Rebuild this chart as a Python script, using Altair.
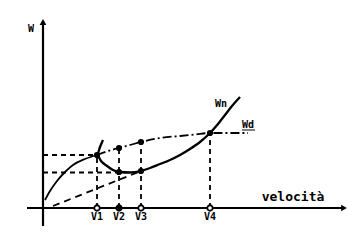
import altair as alt
import pandas as pd

# Wn curve (power required) — velocity, power
wn_v = [60, 57, 54, 58, 64, 70, 76, 87, 98, 107, 117, 127, 137, 147, 157, 167, 175, 182, 189, 197]
wn_w = [68, 61, 53, 47, 42, 38, 36, 35.5, 37, 40, 44, 48, 53, 59, 66, 75, 84, 93, 102, 111]

# Wd curve (power available): solid part and dash-dot part
wd1_v = [2, 7, 14, 22, 30, 42, 54]
wd1_w = [8, 17, 27, 36, 43, 49, 53]
wd2_v = [54, 65, 76, 87, 98, 117, 137, 152, 167, 187, 205]
wd2_w = [53, 57, 60, 63, 66, 70, 72, 73.5, 75, 75, 75]

# tangent dashed line
tan_v = [10, 98]
tan_w = [2, 37]

# special speeds
v_names = ["V1", "V2", "V3", "V4"]
v_vals = [54, 76, 98, 167]
v_top = [53, 60, 66, 75]
v_marker_filled = [False, True, False, False]

# horizontal guides
h_levels = [53, 35.5]
h_ends = [54, 76]

# intersection dots
dot_v = [54, 76, 98, 76, 98, 167]
dot_w = [53, 60, 66, 36, 37, 75]

X = alt.Scale(domain=[-43, 316], nice=False, zero=False)
Y = alt.Scale(domain=[-38, 208], nice=False, zero=False)
FONT = "DejaVu Sans Mono"

def xy(df, **kw):
    return dict(x=alt.X("v:Q", scale=X, axis=None), y=alt.Y("w:Q", scale=Y, axis=None), **kw)

layers = []

# axes
axes_df = pd.DataFrame({"v": [0, -16], "w": [-18, 0], "v2": [0, 300], "w2": [187, 0]})
layers.append(alt.Chart(axes_df).mark_rule(color="black", strokeWidth=2.2).encode(
    x=alt.X("v:Q", scale=X, axis=None), y=alt.Y("w:Q", scale=Y, axis=None), x2="v2:Q", y2="w2:Q"))
arrow_df = pd.DataFrame({"v": [0, 301], "w": [186, 0], "s": ["triangle-up", "triangle-right"]})
layers.append(alt.Chart(arrow_df).mark_point(filled=True, color="black", size=45, opacity=1).encode(
    **xy(arrow_df), shape=alt.Shape("s:N", scale=None, legend=None)))

# guides
hdf = pd.DataFrame({"v": [0, 0], "v2": h_ends, "w": h_levels})
layers.append(alt.Chart(hdf).mark_rule(color="black", strokeWidth=1.8, strokeDash=[5, 4]).encode(
    x=alt.X("v:Q", scale=X, axis=None), x2="v2:Q", y=alt.Y("w:Q", scale=Y, axis=None)))
vdf = pd.DataFrame({"v": v_vals, "w": [0] * 4, "w2": v_top})
layers.append(alt.Chart(vdf).mark_rule(color="black", strokeWidth=1.8, strokeDash=[5, 4]).encode(
    x=alt.X("v:Q", scale=X, axis=None), y=alt.Y("w:Q", scale=Y, axis=None), y2="w2:Q"))

# tangent
tdf = pd.DataFrame({"v": tan_v, "w": tan_w})
layers.append(alt.Chart(tdf).mark_line(color="black", strokeWidth=1.8, strokeDash=[7, 5]).encode(**xy(tdf)))

# curves
wn = pd.DataFrame({"v": wn_v, "w": wn_w, "o": range(len(wn_v))})
layers.append(alt.Chart(wn).mark_line(color="black", strokeWidth=2.3, interpolate="monotone").encode(
    **xy(wn), order="o:Q"))
wd1 = pd.DataFrame({"v": wd1_v, "w": wd1_w})
layers.append(alt.Chart(wd1).mark_line(color="black", strokeWidth=1.8, interpolate="monotone").encode(**xy(wd1)))
wd2 = pd.DataFrame({"v": wd2_v, "w": wd2_w})
layers.append(alt.Chart(wd2).mark_line(color="black", strokeWidth=1.8, strokeDash=[9, 3, 2, 3],
                                       interpolate="monotone").encode(**xy(wd2)))

# dots
ddf = pd.DataFrame({"v": dot_v, "w": dot_w})
layers.append(alt.Chart(ddf).mark_circle(color="black", size=38, opacity=1).encode(**xy(ddf)))
mdf = pd.DataFrame({"v": v_vals, "w": [0] * 4, "f": v_marker_filled})
layers.append(alt.Chart(mdf).mark_point(color="black", size=30, strokeWidth=1.8, opacity=1).encode(
    **xy(mdf), fill=alt.condition("datum.f", alt.value("black"), alt.value("white"))))

# labels
ldf = pd.DataFrame({"v": v_vals, "w": [-9] * 4, "t": v_names})
layers.append(alt.Chart(ldf).mark_text(font=FONT, fontWeight="bold", fontSize=10, color="black").encode(
    **xy(ldf), text="t:N"))
tx = pd.DataFrame({"v": [-12, 178, 205, 250], "w": [179, 104, 83, 11],
                   "t": ["W", "Wn", "Wd", "velocità"], "s": [10, 10, 10, 13]})
layers.append(alt.Chart(tx).mark_text(font=FONT, fontWeight="bold", color="black").encode(
    **xy(tx), text="t:N", size=alt.Size("s:Q", scale=None, legend=None)))
# underline of Wd
udf = pd.DataFrame({"v": [199], "v2": [212], "w": [78]})
layers.append(alt.Chart(udf).mark_rule(color="black", strokeWidth=1).encode(
    x=alt.X("v:Q", scale=X, axis=None), x2="v2:Q", y=alt.Y("w:Q", scale=Y, axis=None)))

chart = alt.layer(*layers).properties(
    width=359, height=246, autosize=alt.AutoSizeParams(type="none"), padding=0, background="white"
).configure_view(stroke=None)

chart.save("out.html", embed_options={"renderer": "svg", "actions": False})
